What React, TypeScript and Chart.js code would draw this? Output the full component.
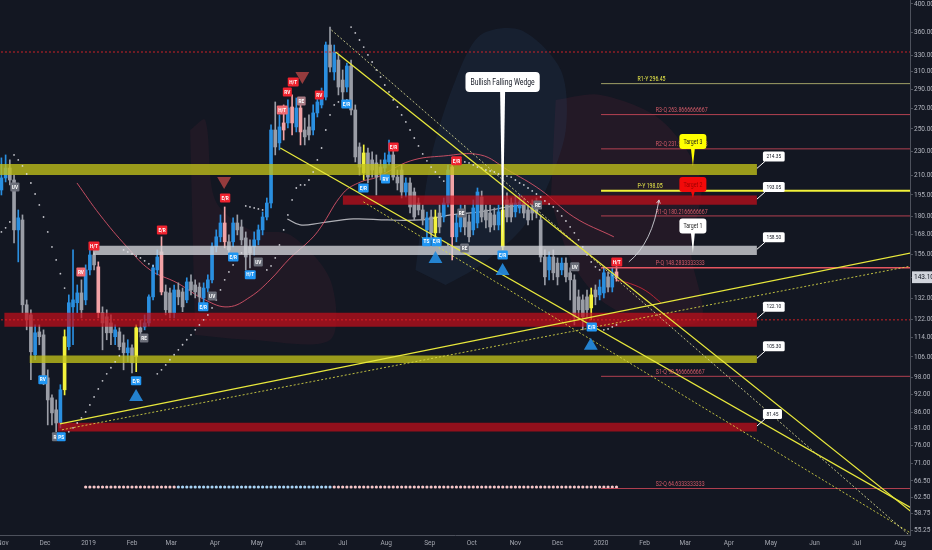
import React, { useEffect, useRef } from 'react';
import { Chart, registerables } from 'chart.js';

Chart.register(...registerables);

const BG = '#131722';
const FONT = "Roboto, 'DejaVu Sans', sans-serif";

const DAY0 = Date.UTC(2018, 10, 1);
function dayOf(s: string): number {
  const [y, m, d] = s.split('-').map(Number);
  return (Date.UTC(y, m - 1, d) - DAY0) / 86400000;
}

// ---------- axis ----------
const viewStart = '2018-10-30';
const viewEnd = '2020-08-08';
const monthTicks = ['2018-11-01', '2018-12-01', '2019-01-01', '2019-02-01', '2019-03-01', '2019-04-01', '2019-05-01', '2019-06-01', '2019-07-01', '2019-08-01', '2019-09-01', '2019-10-01', '2019-11-01', '2019-12-01', '2020-01-01', '2020-02-01', '2020-03-01', '2020-04-01', '2020-05-01', '2020-06-01', '2020-07-01', '2020-08-01'];
const monthLabels = ['Nov', 'Dec', '2019', 'Feb', 'Mar', 'Apr', 'May', 'Jun', 'Jul', 'Aug', 'Sep', 'Oct', 'Nov', 'Dec', '2020', 'Feb', 'Mar', 'Apr', 'May', 'Jun', 'Jul', 'Aug'];
const priceTicks = [400, 360, 330, 310, 290, 270, 250, 230, 210, 195, 180, 168, 156, 143.1, 132, 122, 114, 106, 98, 92, 86, 81, 76, 71, 66.5, 62.5, 58.75, 55.25];
const lastPrice = 143.1;
const priceMin = 54.26;
const priceMax = 406.06;

// ---------- candles (3-day bars) ----------
const firstCandle = '2018-10-31';
const candlePeriodDays = 3;
const opens = [
  198.7, 207.9, 215.8, 206.3, 171.0, 177.5, 129.0, 124.2, 106.9, 116.5,
  115.2, 98.0, 90.9, 86.9, 82.7, 93.7, 110.2, 128.0, 130.0, 134.9,
  131.4, 147.1, 155.6, 148.8, 125.2, 123.3, 120.5, 114.4, 116.5, 111.8,
  107.7, 109.7, 106.1, 118.3, 118.7, 120.5, 132.9, 147.1, 157.4, 135.4,
  134.9, 125.2, 136.4, 135.4, 131.4, 140.6, 139.0, 137.9, 132.4, 137.4,
  141.7, 160.4, 166.6, 175.5, 163.5, 163.5, 175.5, 172.9, 165.9, 160.4,
  160.4, 164.7, 171.0, 179.5, 189.2, 249.0, 237.2, 255.7, 255.7, 271.5,
  251.9, 270.5, 249.0, 251.9, 249.0, 265.5, 273.6, 281.9, 342.8, 309.8,
  324.0, 300.5, 292.7, 316.8, 268.5, 233.6, 211.8, 228.4, 222.5, 220.0,
  216.6, 215.8, 220.8, 226.7, 208.6, 214.2, 197.2, 204.0, 197.2, 189.2,
  184.3, 171.0, 179.5, 169.1, 182.2, 179.5, 189.2, 216.6, 166.6, 172.9,
  182.2, 176.2, 171.0, 175.5, 193.5, 184.3, 182.2, 180.9, 174.2, 160.4,
  191.4, 189.2, 183.0, 185.7, 189.2, 184.3, 185.7, 189.2, 177.5, 154.4,
  147.1, 154.4, 150.9, 147.1, 150.9, 145.5, 141.7, 132.9, 131.4, 132.9,
  127.5, 136.4, 133.9, 134.9, 143.3, 137.9, 146.0,
];
const highs = [
  224.2, 226.7, 222.5, 210.2, 184.3, 180.9, 131.4, 126.6, 119.6, 119.6,
  117.4, 101.0, 91.9, 90.2, 95.5, 117.4, 133.9, 158.6, 139.0, 141.7,
  149.9, 158.6, 156.8, 151.6, 128.0, 126.6, 124.2, 119.6, 118.3, 115.2,
  113.1, 111.0, 119.6, 121.9, 124.2, 133.9, 149.9, 158.6, 166.6, 139.0,
  137.4, 139.0, 140.1, 137.4, 142.8, 144.4, 141.7, 140.1, 140.1, 144.4,
  162.8, 171.0, 180.9, 186.4, 167.8, 178.9, 180.9, 177.5, 169.7, 164.7,
  169.7, 174.2, 182.9, 192.8, 253.8, 276.7, 263.5, 273.6, 278.8, 284.1,
  280.9, 278.8, 260.5, 263.5, 273.6, 284.1, 291.6, 346.7, 366.8, 342.8,
  330.2, 312.1, 320.4, 324.0, 273.6, 237.2, 235.4, 232.7, 229.3, 226.7,
  222.5, 228.4, 239.8, 231.0, 214.2, 218.3, 207.9, 207.9, 200.2, 192.8,
  187.8, 182.9, 184.3, 184.3, 187.8, 192.8, 218.3, 222.5, 180.9, 187.8,
  187.8, 180.9, 191.4, 200.2, 197.9, 187.8, 187.8, 185.7, 187.8, 191.4,
  196.5, 192.8, 194.3, 195.0, 192.8, 187.8, 191.4, 192.8, 180.9, 158.6,
  157.4, 158.6, 153.9, 153.9, 153.9, 148.2, 144.4, 136.4, 133.9, 136.4,
  137.4, 139.0, 141.7, 148.2, 146.0, 148.2, 149.0,
];
const lows = [
  195.0, 204.8, 202.5, 162.8, 151.6, 125.2, 117.4, 97.3, 104.9, 111.0,
  95.5, 82.1, 82.1, 80.0, 81.2, 91.9, 108.9, 111.0, 125.2, 122.8,
  129.0, 144.4, 147.1, 122.8, 108.9, 113.1, 111.0, 111.0, 108.9, 101.0,
  104.1, 99.8, 100.3, 114.3, 117.4, 119.2, 131.4, 144.4, 133.9, 124.2,
  122.8, 122.8, 129.0, 125.7, 130.0, 133.9, 132.4, 130.0, 130.0, 135.4,
  140.1, 157.4, 163.5, 159.8, 153.9, 160.4, 167.8, 161.6, 147.1, 148.2,
  155.6, 161.6, 167.8, 177.5, 185.7, 226.7, 231.0, 239.8, 250.9, 244.4,
  247.2, 235.4, 235.4, 239.8, 244.4, 261.5, 270.5, 278.8, 309.8, 300.5,
  284.1, 278.8, 287.3, 263.5, 220.8, 210.2, 206.3, 204.0, 208.6, 195.0,
  206.3, 212.6, 218.3, 206.3, 198.7, 192.8, 193.5, 182.2, 177.5, 180.9,
  174.2, 164.7, 164.7, 162.8, 169.1, 176.2, 186.4, 152.7, 163.5, 169.7,
  167.8, 163.5, 167.8, 172.3, 176.2, 172.3, 169.7, 171.0, 171.0, 158.6,
  176.2, 176.2, 179.5, 182.2, 178.9, 174.2, 177.5, 178.9, 151.6, 139.0,
  141.7, 141.7, 139.0, 144.4, 140.6, 131.4, 119.6, 121.9, 117.4, 122.8,
  121.9, 129.0, 131.4, 132.4, 135.4, 135.4, 141.0,
];
const closes = [
  207.9, 215.8, 206.3, 171.0, 178.9, 129.0, 121.9, 108.1, 116.1, 114.4,
  97.3, 90.2, 85.9, 82.7, 93.7, 114.4, 130.0, 131.4, 134.9, 126.6,
  147.1, 155.6, 149.9, 125.2, 120.5, 116.1, 116.1, 117.4, 110.2, 107.7,
  109.7, 103.7, 118.3, 116.5, 120.5, 132.9, 148.2, 154.4, 135.4, 126.6,
  125.2, 136.4, 132.9, 128.0, 140.6, 136.4, 135.4, 132.9, 137.4, 141.7,
  160.4, 166.6, 175.5, 163.5, 158.6, 175.5, 171.0, 164.7, 154.4, 156.8,
  164.7, 171.0, 179.5, 189.2, 249.0, 233.6, 251.9, 249.0, 270.5, 255.7,
  270.5, 247.2, 242.6, 244.4, 265.5, 276.7, 284.1, 342.8, 315.6, 333.9,
  292.7, 287.3, 316.8, 268.5, 225.0, 216.6, 228.4, 208.6, 214.2, 208.6,
  211.8, 222.5, 226.7, 208.6, 204.0, 197.2, 204.0, 186.4, 179.5, 184.3,
  177.5, 178.9, 169.1, 179.5, 172.9, 189.2, 214.2, 166.6, 175.5, 182.2,
  172.9, 166.6, 185.7, 197.2, 179.5, 177.5, 172.9, 174.2, 183.0, 184.3,
  179.5, 179.5, 189.2, 189.9, 182.2, 177.5, 182.2, 182.2, 154.4, 143.3,
  154.4, 145.5, 143.3, 150.9, 143.3, 141.7, 123.3, 126.6, 123.3, 126.6,
  133.9, 132.9, 137.9, 145.5, 137.9, 145.5, 143.1,
];
const yellowBars = [15, 32, 86, 103, 119, 140];
const pinkBars = [23, 38, 53, 67, 69, 71, 107, 146];

// parabolic SAR per bar
const sarValues = [
  169.7, 172.3, 176.2, 226.7, 222.5, 217.5, 211.0, 204.0, 195.7, 187.8,
  179.5, 169.7, 160.4, 152.7, 145.0, 137.4, 80.0, 81.2, 82.7, 84.3,
  86.2, 88.5, 91.2, 94.0, 96.9, 99.5, 101.8, 104.1, 106.5, 158.6,
  157.4, 156.2, 155.0, 153.9, 152.2, 150.5, 149.3, 99.5, 101.0, 102.9,
  104.9, 106.9, 108.9, 111.0, 113.1, 115.2, 117.4, 119.6, 121.9, 124.2,
  127.5, 131.4, 136.4, 141.7, 146.0, 149.9, 153.9, 156.8, 187.1, 186.4,
  185.7, 185.0, 184.3, 147.1, 149.3, 153.9, 161.6, 171.0, 180.9, 191.4,
  200.2, 202.5, 202.5, 206.3, 212.6, 222.5, 232.7, 249.0, 263.5, 273.6,
  276.7, 277.8, 278.8, 366.8, 358.7, 349.3, 340.2, 330.2, 321.6, 312.1,
  304.0, 294.9, 287.3, 278.8, 271.5, 263.5, 256.7, 249.0, 241.6, 234.5,
  227.6, 221.7, 216.6, 212.6, 208.6, 205.5, 161.6, 224.2, 223.3, 222.5,
  220.8, 220.0, 218.3, 216.6, 215.8, 214.2, 213.4, 212.6, 211.0, 210.2,
  209.4, 208.6, 206.3, 204.0, 202.5, 200.2, 198.0, 195.7, 193.5, 190.7,
  188.5, 186.4, 183.6, 180.2, 176.8, 172.9, 169.1, 164.7, 160.4, 155.6,
  151.6, 148.8, 147.1, 117.4, 117.8, 118.7, 119.6,
];

// bottom row of state dots
const rowDotLevel = 65.0;
const rowDotSegments = [
  { from: 20, to: 41, state: 'bear' },
  { from: 42, to: 78, state: 'bull' },
  { from: 79, to: 146, state: 'bear' },
];

// moving averages [day, price]
const maSlow = [[52.8, 204.0], [69.2, 180.9], [88.4, 160.4], [104.9, 147.1], [124.1, 140.1], [144.1, 131.4], [160.5, 128.0], [176.2, 132.9], [190.4, 141.7], [204.7, 153.9], [219.0, 164.7], [226.1, 172.3], [242.5, 196.5], [254.6, 204.7], [266.8, 208.6], [290.3, 221.7], [313.8, 225.8], [340.2, 226.7], [359.5, 214.2], [383.0, 198.7], [406.6, 179.5], [435.1, 166.6]];
const maFast = [[436.5, 141.7], [447.2, 139.6], [457.9, 136.0], [468.6, 130.0]];
const maMid = [[202.6, 178.2], [211.8, 174.2], [226.1, 175.5], [249.6, 178.2], [273.9, 177.5], [297.4, 177.5], [318.8, 180.9], [340.2, 183.0], [359.5, 186.4], [370.9, 187.8]];

// shaded clouds [day, price]
const blueCloud = [[293.9, 147.1], [304.6, 222.5], [322.4, 300.5], [340.2, 356.0], [368.8, 362.7], [397.3, 312.1], [400.9, 249.0], [386.6, 198.7], [368.8, 171.0], [340.2, 149.9], [315.3, 139.0]];
const redCloudRight = [[393.7, 278.8], [425.8, 284.1], [468.6, 258.6], [497.1, 206.3], [490.0, 158.6], [497.1, 121.9], [454.4, 121.9], [425.8, 131.4], [404.4, 152.7], [390.2, 191.4]];
const redCloudLeft = [[133.4, 249.0], [144.1, 258.6], [151.2, 191.4], [176.2, 171.0], [204.7, 167.8], [233.2, 141.7], [233.2, 113.1], [176.2, 113.1], [136.9, 115.2]];

// zones
const bands = [
  { from: '2018-10-27', to: '2020-04-21', low: 210.2, high: 219.2, kind: 'yellow', label: '214.35' },
  { from: '2019-07-01', to: '2020-04-21', low: 188.0, high: 194.6, kind: 'red', label: '193.05' },
  { from: '2019-01-04', to: '2020-04-21', low: 155.6, high: 161.1, kind: 'grey', label: '158.50' },
  { from: '2018-11-02', to: '2020-04-21', low: 118.8, high: 125.2, kind: 'red', label: '122.10' },
  { from: '2018-11-20', to: '2020-04-21', low: 103.6, high: 106.6, kind: 'yellow', label: '105.30' },
  { from: '2018-12-10', to: '2020-04-21', low: 80.1, high: 82.8, kind: 'red', label: '81.45' },
];

// pivots (from 2020-01-01)
const pivotStart = '2020-01-01';
const pivotNames = ['R1-Y', 'R3-Q', 'R2-Q', 'P-Y', 'R1-Q', 'P-Q', 'S1-Q', 'S2-Q'];
const pivotValues = [296.45, 263.8666666667, 231.9333333333, 198.05, 180.2166666667, 148.2833333333, 98.5666666667, 64.6333333333];
const pivotTextDayY = 452;
const pivotTextDayQ = 465;

// full-width dotted levels
const dottedLevels = [333.9, 121.9];

// trend lines [day, price]
const wedgeUpperSolid = [[237, 334.0], [647, 59.2]];
const wedgeUpperDotted = [[234, 362.7], [647, 53.85]];
const wedgeLowerSolid = [[197.6, 232.7], [647, 60.06]];
const wedgeLowerDotted = [[256.8, 190.0], [647, 54.57]];
const supportSolid = [[40.7, 82.4], [647, 156.8]];
const supportDotted = [[42.1, 80.6], [647, 149.3]];

// markers
const buyTriangles = [[94.9, 91.2], [308.1, 153.3], [355.9, 146.5], [418.7, 110.6]];
const sellTriangles = [[157.6, 205.5], [213.3, 305.1]];

const signalLabels: [number, number, string, string][] = [
  [8.6, 201.0, 'UV', 'grey'], [28.5, 97.3, 'RV', 'blue'], [37.1, 78.5, 'R', 'grey'], [41.6, 78.5, 'PS', 'blue'],
  [55.6, 146.0, 'RV', 'lightred'], [64.9, 161.0, 'H/T', 'red'], [94.9, 96.9, 'E/R', 'blue'], [100.6, 113.9, 'RE', 'grey'],
  [113.4, 171.0, 'E/R', 'red'], [142.7, 128.0, 'E/R', 'blue'], [149.1, 133.4, 'UV', 'grey'], [158.3, 192.8, 'E/R', 'red'],
  [164.1, 154.4, 'E/R', 'blue'], [176.2, 144.4, 'H/T', 'blue'], [181.9, 151.6, 'UV', 'grey'], [199.0, 268.5, 'H/T', 'lightred'],
  [202.6, 287.3, 'RV', 'red'], [206.8, 298.3, 'H/T', 'red'], [212.6, 277.8, 'RE', 'mauve'], [225.4, 284.1, 'RV', 'red'],
  [244.7, 274.6, 'E/R', 'blue'], [256.8, 200.2, 'E/R', 'blue'], [272.5, 207.1, 'RV', 'blue'], [278.2, 233.6, 'E/R', 'red'],
  [301.7, 163.5, 'TS', 'blue'], [308.8, 163.5, 'E/R', 'blue'], [323.1, 221.7, 'E/R', 'red'], [326.7, 182.2, 'RE', 'grey'],
  [328.8, 159.8, 'RE', 'grey'], [355.9, 155.6, 'E/R', 'blue'], [380.9, 187.8, 'RE', 'grey'], [407.3, 148.8, 'UV', 'grey'],
  [419.4, 118.7, 'E/R', 'blue'], [437.2, 151.6, 'H/T', 'red'],
];

const wedgeNote = { text: 'Bullish Falling Wedge', day: 355.9, boxPrice: 298.3, tipPrice: 162.8 };
const targetNotes = [
  { text: 'Target 3', day: 491.4, boxPrice: 238.4, tipPrice: 217.5, kind: 'yellow' },
  { text: 'Target 2', day: 491.4, boxPrice: 202.9, tipPrice: 192.8, kind: 'red' },
  { text: 'Target 1', day: 491.4, boxPrice: 173.5, tipPrice: 156.8, kind: 'white' },
];
const projectionArrow = { from: [445.8, 151.6], ctrl: [462.5, 163.0], to: [467.2, 191.4] };

// ---------- styles ----------
const bandColors: Record<string, string> = { yellow: 'rgba(192,192,26,0.78)', red: 'rgba(196,14,26,0.72)', grey: 'rgba(212,213,218,0.78)' };
const labelColors: Record<string, string> = { red: '#f0232f', lightred: '#f06a72', blue: '#2196f3', grey: '#6c6f7a', mauve: '#a87a84' };
const targetColors: Record<string, [string, string]> = { yellow: ['#ffff00', '#1b1b1b'], red: ['#f20a0a', '#9a0000'], white: ['#ffffff', '#1b1b1b'] };

const candleX = opens.map((_, i) => dayOf(firstCandle) + candlePeriodDays * i);
function candleColor(i: number): string {
  if (yellowBars.includes(i)) return '#f3f33c';
  if (pinkBars.includes(i)) return '#f2a3a6';
  return closes[i] >= opens[i] ? '#2a8fe0' : '#9a9da6';
}
function rowDotColor(i: number): string {
  const seg = rowDotSegments.find((s) => i >= s.from && i <= s.to);
  return seg && seg.state === 'bull' ? '#a9d4f5' : '#f6c6c8';
}
const pts = (arr: number[][]) => arr.map(([x, y]) => ({ x, y }));

function lineDs(arr: number[][], color: string, width: number, dash: number[] | undefined, order: number, tension = 0): any {
  return { type: 'line', data: pts(arr), borderColor: color, borderWidth: width, borderDash: dash || [], pointRadius: 0, fill: false, tension, order };
}

function buildDatasets(): any[] {
  const ds: any[] = [];
  ds.push({ type: 'line', data: pts(blueCloud), fill: 'shape', backgroundColor: 'rgba(48,86,135,0.15)', borderWidth: 0, pointRadius: 0, tension: 0.3, order: 60 });
  ds.push({ type: 'line', data: pts(redCloudRight), fill: 'shape', backgroundColor: 'rgba(120,36,62,0.17)', borderWidth: 0, pointRadius: 0, tension: 0.3, order: 60 });
  ds.push({ type: 'line', data: pts(redCloudLeft), fill: 'shape', backgroundColor: 'rgba(120,36,62,0.13)', borderWidth: 0, pointRadius: 0, tension: 0.3, order: 60 });

  ds.push(lineDs(maSlow, 'rgba(226,86,108,0.85)', 1, undefined, 40, 0.4));
  ds.push(lineDs(maFast, 'rgba(200,40,55,0.9)', 1, undefined, 40, 0.4));
  ds.push(lineDs(maMid, 'rgba(215,215,220,0.8)', 1.2, undefined, 40, 0.4));

  ds.push({ type: 'bar', data: candleX.map((x, i) => ({ x, y: [lows[i], highs[i]] })), backgroundColor: (c: any) => candleColor(c.dataIndex), barThickness: 1, grouped: false, minBarLength: 1, order: 31 });
  ds.push({ type: 'bar', data: candleX.map((x, i) => ({ x, y: [opens[i], closes[i]] })), backgroundColor: (c: any) => candleColor(c.dataIndex), barThickness: 3, grouped: false, minBarLength: 1, order: 30 });

  bands.forEach((b) => {
    ds.push({ type: 'line', data: [{ x: dayOf(b.from), y: b.high }, { x: dayOf(b.to), y: b.high }], fill: { value: b.low }, backgroundColor: bandColors[b.kind], borderWidth: 0, pointRadius: 0, order: 20 });
  });

  ds.push({ type: 'line', showLine: false, data: candleX.map((x, i) => ({ x, y: sarValues[i] })), pointRadius: 0.9, pointBorderWidth: 0, pointBackgroundColor: 'rgba(225,225,230,0.85)', order: 15 });
  const rowIdx = candleX.map((_, i) => i).filter((i) => i >= rowDotSegments[0].from);
  ds.push({ type: 'line', showLine: false, data: rowIdx.map((i) => ({ x: candleX[i], y: rowDotLevel })), pointRadius: 1.6, pointBorderWidth: 0, pointBackgroundColor: (c: any) => rowDotColor(rowIdx[c.dataIndex]), order: 15 });

  dottedLevels.forEach((v) => ds.push(lineDs([[dayOf(viewStart) - 5, v], [dayOf(viewEnd) + 5, v]], 'rgba(225,35,40,0.9)', 1, [2, 2], 12)));

  pivotNames.forEach((n, i) => {
    const v = pivotValues[i];
    const isPY = n === 'P-Y';
    const color = isPY ? '#f2f23a' : n === 'R1-Y' ? 'rgba(175,175,110,0.9)' : n === 'P-Q' ? 'rgba(240,88,100,0.95)' : 'rgba(206,72,88,0.85)';
    ds.push(lineDs([[dayOf(pivotStart), v], [dayOf(viewEnd) + 10, v]], color, isPY ? 2 : n === 'P-Q' ? 1.5 : 1, undefined, 10));
  });

  ds.push(lineDs(wedgeUpperSolid, '#e9e93c', 1.3, undefined, 8));
  ds.push(lineDs(wedgeLowerSolid, '#e9e93c', 1.3, undefined, 8));
  ds.push(lineDs(supportSolid, '#e9e93c', 1.3, undefined, 8));
  ds.push(lineDs(wedgeUpperDotted, 'rgba(222,222,150,0.85)', 1, [2, 2], 8));
  ds.push(lineDs(wedgeLowerDotted, 'rgba(220,220,70,0.85)', 1, [2, 2], 8));
  ds.push(lineDs(supportDotted, 'rgba(220,220,70,0.85)', 1, [2, 2], 8));

  ds.push({ type: 'line', showLine: false, data: pts(buyTriangles), pointStyle: 'triangle', pointRadius: 8, pointBorderWidth: 0, pointBackgroundColor: 'rgba(38,140,222,0.92)', order: 5 });
  ds.push({ type: 'line', showLine: false, data: pts(sellTriangles), pointStyle: 'triangle', rotation: 180, pointRotation: 180, pointRadius: 8, pointBorderWidth: 0, pointBackgroundColor: 'rgba(205,75,72,0.7)', order: 5 });
  return ds;
}

// ---------- drawing helpers ----------
function txt(ctx: CanvasRenderingContext2D, s: string, x: number, y: number, size: number, color: string, align: string, weight = 'normal', sx = 0.8): number {
  ctx.save();
  ctx.font = `${weight} ${size}px ${FONT}`;
  const w = ctx.measureText(s).width * sx;
  const x0 = align === 'center' ? x - w / 2 : align === 'right' ? x - w : x;
  ctx.translate(x0, y);
  ctx.scale(sx, 1);
  ctx.textAlign = 'left';
  ctx.textBaseline = 'middle';
  ctx.fillStyle = color;
  ctx.fillText(s, 0, 0);
  ctx.restore();
  return w;
}
function measure(ctx: CanvasRenderingContext2D, s: string, size: number, weight = 'normal', sx = 0.8): number {
  ctx.save();
  ctx.font = `${weight} ${size}px ${FONT}`;
  const w = ctx.measureText(s).width * sx;
  ctx.restore();
  return w;
}
function rrect(ctx: CanvasRenderingContext2D, x: number, y: number, w: number, h: number, r: number) {
  ctx.beginPath();
  ctx.moveTo(x + r, y);
  ctx.lineTo(x + w - r, y);
  ctx.quadraticCurveTo(x + w, y, x + w, y + r);
  ctx.lineTo(x + w, y + h - r);
  ctx.quadraticCurveTo(x + w, y + h, x + w - r, y + h);
  ctx.lineTo(x + r, y + h);
  ctx.quadraticCurveTo(x, y + h, x, y + h - r);
  ctx.lineTo(x, y + r);
  ctx.quadraticCurveTo(x, y, x + r, y);
  ctx.closePath();
}
function callout(ctx: CanvasRenderingContext2D, cx: number, cy: number, w: number, h: number, r: number, tipX: number, tipY: number, half: number, fill: string) {
  ctx.fillStyle = fill;
  ctx.beginPath();
  ctx.moveTo(cx - half, cy + h / 2 - 1);
  ctx.lineTo(tipX, tipY);
  ctx.lineTo(cx + half, cy + h / 2 - 1);
  ctx.closePath();
  ctx.fill();
  rrect(ctx, cx - w / 2, cy - h / 2, w, h, r);
  ctx.fill();
}

const overlayPlugin = {
  id: 'overlay',
  beforeDraw(chart: any) {
    const { ctx, width, height } = chart;
    ctx.save();
    ctx.fillStyle = BG;
    ctx.fillRect(0, 0, width, height);
    ctx.restore();
  },
  afterDatasetsDraw(chart: any) {
    const { ctx, chartArea: a } = chart;
    const X = (d: number) => chart.scales.x.getPixelForValue(d);
    const Y = (p: number) => chart.scales.y.getPixelForValue(p);
    ctx.save();
    ctx.beginPath();
    ctx.rect(a.left, a.top, a.right - a.left, a.bottom - a.top);
    ctx.clip();

    // pivot captions
    pivotNames.forEach((n, i) => {
      const isY = n.endsWith('-Y');
      txt(ctx, `${n} ${pivotValues[i]}`, X(isY ? pivotTextDayY : pivotTextDayQ), Y(pivotValues[i]) - 4, 6.5, isY ? '#e8e84a' : '#d45a68', 'left');
    });

    // projection arrow
    {
      const [fx, fy] = [X(projectionArrow.from[0]), Y(projectionArrow.from[1])];
      const [cx, cy] = [X(projectionArrow.ctrl[0]), Y(projectionArrow.ctrl[1])];
      const [tx, ty] = [X(projectionArrow.to[0]), Y(projectionArrow.to[1])];
      ctx.strokeStyle = 'rgba(215,218,225,0.85)';
      ctx.lineWidth = 1;
      ctx.beginPath();
      ctx.moveTo(fx, fy);
      ctx.quadraticCurveTo(cx, cy, tx, ty);
      ctx.stroke();
      const ang = Math.atan2(ty - cy, tx - cx);
      ctx.beginPath();
      ctx.moveTo(tx, ty);
      ctx.lineTo(tx - 4 * Math.cos(ang - 0.5), ty - 4 * Math.sin(ang - 0.5));
      ctx.moveTo(tx, ty);
      ctx.lineTo(tx - 4 * Math.cos(ang + 0.5), ty - 4 * Math.sin(ang + 0.5));
      ctx.stroke();
    }

    // zone value boxes
    bands.forEach((b) => {
      const ax = X(dayOf(b.to));
      const ay = Y((b.low + b.high) / 2);
      const w = measure(ctx, b.label, 6) + 7;
      const bx = ax + 6;
      const by = ay - 18;
      ctx.strokeStyle = '#ffffff';
      ctx.lineWidth = 1;
      ctx.beginPath();
      ctx.moveTo(bx + 2, by + 10);
      ctx.lineTo(ax, ay - 1);
      ctx.stroke();
      ctx.fillStyle = '#ffffff';
      rrect(ctx, bx, by, w, 10, 1.5);
      ctx.fill();
      txt(ctx, b.label, bx + w / 2, by + 5, 6, '#131722', 'center');
    });

    // signal labels
    signalLabels.forEach(([d, p, s, kind]) => {
      const x = X(d);
      const y = Y(p);
      const w = measure(ctx, s, 5.5, 'bold', 0.85) + 3;
      ctx.fillStyle = labelColors[kind];
      rrect(ctx, x - w / 2, y - 4.5, w, 9, 1);
      ctx.fill();
      txt(ctx, s, x, y + 0.3, 5.5, '#ffffff', 'center', 'bold', 0.85);
    });

    // wedge note
    {
      const cx = X(wedgeNote.day);
      const cy = Y(wedgeNote.boxPrice);
      const w = measure(ctx, wedgeNote.text, 8.5) + 10;
      callout(ctx, cx, cy, w, 20, 4, cx, Y(wedgeNote.tipPrice), 2.5, '#ffffff');
      txt(ctx, wedgeNote.text, cx, cy + 0.5, 8.5, '#131722', 'center');
    }

    // targets
    targetNotes.forEach((t) => {
      const cx = X(t.day);
      const cy = Y(t.boxPrice);
      const [fill, color] = targetColors[t.kind];
      callout(ctx, cx, cy, 27, 15, 3, cx, Y(t.tipPrice), 2, fill);
      txt(ctx, t.text, cx, cy + 0.5, 6.5, color, 'center');
    });
    ctx.restore();
  },
};

export default function App() {
  const ref = useRef<HTMLCanvasElement | null>(null);
  useEffect(() => {
    document.body.style.margin = '0';
    document.body.style.background = BG;
    const monthDays = monthTicks.map(dayOf);
    const chart = new Chart(ref.current as HTMLCanvasElement, {
      type: 'bar',
      data: { datasets: buildDatasets() },
      plugins: [overlayPlugin as any],
      options: {
        animation: false,
        responsive: false,
        maintainAspectRatio: false,
        devicePixelRatio: 1,
        layout: { padding: 0, autoPadding: false },
        plugins: { legend: { display: false }, tooltip: { enabled: false } },
        scales: {
          x: {
            type: 'linear',
            position: 'bottom',
            min: dayOf(viewStart),
            max: dayOf(viewEnd),
            offset: false,
            grid: { display: false, drawTicks: true, tickLength: 3 },
            border: { display: true, color: '#4d515c', width: 1 },
            ticks: {
              autoSkip: false,
              maxRotation: 0,
              color: '#a3a6af',
              font: { size: 6.5, family: FONT },
              padding: 1,
              callback: (_v: any, i: number) => monthLabels[i] ?? '',
            },
            afterBuildTicks: (s: any) => { s.ticks = monthDays.map((v) => ({ value: v })); },
            afterFit: (s: any) => { s.height = 15; s.paddingLeft = 0; s.paddingRight = 0; },
          } as any,
          y: {
            type: 'logarithmic',
            position: 'right',
            min: priceMin,
            max: priceMax,
            grid: { drawOnChartArea: false, drawTicks: true, tickLength: 3, color: '#4d515c' },
            border: { display: true, color: '#4d515c', width: 1 },
            ticks: {
              autoSkip: false,
              padding: 1,
              font: { size: 6.5, family: FONT },
              color: (c: any) => (c.tick && c.tick.value === lastPrice ? '#131722' : '#b2b5be'),
              showLabelBackdrop: (c: any) => !!(c.tick && c.tick.value === lastPrice),
              backdropColor: '#d1d4dc',
              backdropPadding: { top: 2, bottom: 2, left: 2, right: 3 },
              callback: (v: any) => Number(v).toFixed(2),
            },
            afterBuildTicks: (s: any) => { s.ticks = priceTicks.map((v) => ({ value: v })); },
            afterFit: (s: any) => { s.width = 22; s.paddingTop = 0; s.paddingBottom = 0; },
          } as any,
        },
      } as any,
    });
    return () => chart.destroy();
  }, []);
  return (
    <div style={{ width: 932, height: 550 }}>
      <canvas ref={ref} width={932} height={550} style={{ display: 'block', width: 932, height: 550 }} />
    </div>
  );
}
